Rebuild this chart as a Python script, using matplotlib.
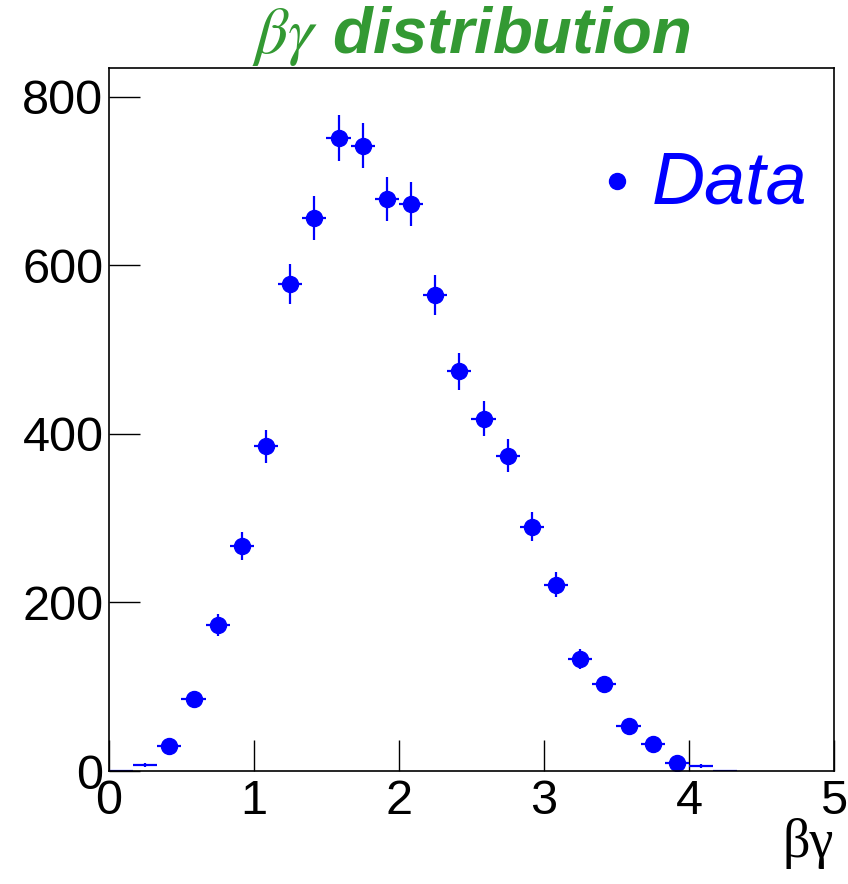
import numpy as np
import matplotlib.pyplot as plt

plt.rcParams['mathtext.fontset'] = 'stix'

bin_edges = np.linspace(0, 5, 31)
bin_centers = 0.5 * (bin_edges[:-1] + bin_edges[1:])
counts = [0, 7, 30, 85, 173, 267, 385, 578, 656, 751,
          742, 679, 673, 565, 474, 418, 374, 290, 221, 133,
          103, 53, 32, 10, 6, 0]
half_width = (bin_edges[1] - bin_edges[0]) / 2

x = bin_centers[:len(counts)]
y = np.array(counts, dtype=float)
yerr = np.sqrt(y)

fig = plt.figure(figsize=(8.48, 8.84), dpi=100)
ax = fig.add_axes([0.1285, 0.1278, 0.855, 0.7953])

blue = '#0000ff'
big = y > 8
ax.errorbar(x[big], y[big], xerr=half_width, yerr=yerr[big], fmt='o',
            color=blue, markersize=11.5, elinewidth=1.6, capsize=0)
ax.errorbar(x[~big], y[~big], xerr=half_width, yerr=yerr[~big], fmt='none',
            ecolor=blue, elinewidth=1.6, capsize=0)

ax.set_xlim(0, 5)
ax.set_ylim(0, 834)
ax.set_xticks([0, 1, 2, 3, 4, 5])
ax.set_yticks([0, 200, 400, 600, 800])
ax.tick_params(direction='in', length=22, width=1, labelsize=35, pad=6,
               top=False, right=False)
ax.tick_params(axis='y', pad=4)
for lab in ax.get_xticklabels() + ax.get_yticklabels():
    lab.set_family('Liberation Sans')
for s in ax.spines.values():
    s.set_linewidth(1.2)

ax.set_title(r'$\beta\gamma$ distribution', fontsize=47, color='#339933',
             fontweight='bold', style='italic', family='Liberation Sans', pad=3)
fig.text(0.983, 0.03, 'βγ', ha='right', va='baseline', fontsize=39,
         family='Liberation Serif')

# legend
ax.plot([0.7007], [0.839], 'o', color=blue, markersize=11.5,
        transform=ax.transAxes, clip_on=False)
ax.text(0.749, 0.835, 'Data', color=blue, fontsize=53, style='italic',
        family='Liberation Sans', va='center', ha='left',
        transform=ax.transAxes)

fig.savefig('out.png', dpi=100)
